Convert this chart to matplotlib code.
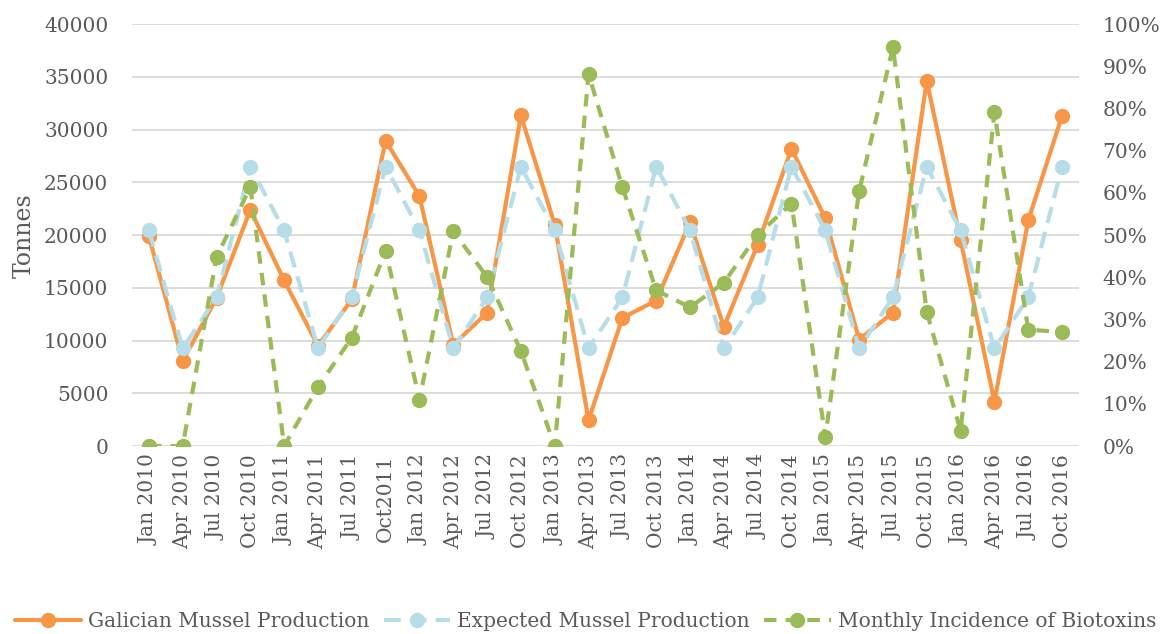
import matplotlib
matplotlib.use("Agg")
import matplotlib.pyplot as plt
from matplotlib.ticker import FuncFormatter, MultipleLocator

categories = ["Jan 2010", "Apr 2010", "Jul 2010", "Oct 2010",
              "Jan 2011", "Apr 2011", "Jul 2011", "Oct2011",
              "Jan 2012", "Apr 2012", "Jul 2012", "Oct 2012",
              "Jan 2013", "Apr 2013", "Jul 2013", "Oct 2013",
              "Jan 2014", "Apr 2014", "Jul 2014", "Oct 2014",
              "Jan 2015", "Apr 2015", "Jul 2015", "Oct 2015",
              "Jan 2016", "Apr 2016", "Jul 2016", "Oct 2016"]

galician = [19900, 8050, 14050, 22400, 15700, 9500, 13900, 28950,
            23700, 9600, 12650, 31350, 21000, 2450, 12150, 13800,
            21200, 11300, 19100, 28200, 21600, 10100, 12650, 34650,
            19550, 4200, 21400, 31300]

expected = [20450, 9250, 14100, 26500, 20450, 9250, 14100, 26500,
            20450, 9250, 14100, 26500, 20450, 9250, 14100, 26500,
            20450, 9250, 14100, 26500, 20450, 9250, 14100, 26500,
            20450, 9250, 14100, 26500]

biotoxins = [0.0, 0.0, 44.8, 61.4, 0.0, 14.0, 25.7, 46.3,
             11.0, 50.9, 40.1, 22.5, 0.0, 88.2, 61.4, 36.9,
             32.9, 38.7, 50.1, 57.5, 2.1, 60.4, 94.6, 31.8,
             3.6, 79.1, 27.6, 27.0]

FONT = "DejaVu Serif"
plt.rcParams["font.family"] = FONT
TXT = "#595959"
ORANGE = "#F79646"
BLUE = "#B7DEE8"
GREEN = "#9BBB59"
GRID = "#D9D9D9"
FS = 14.5

fig = plt.figure(figsize=(11.71, 6.34), dpi=100)
ax = fig.add_axes([0.1127, 0.2965, 0.8087, 0.6652])
ax2 = ax.twinx()

x = list(range(len(categories)))
l1, = ax.plot(x, galician, color=ORANGE, lw=3.0, marker="o", ms=10,
              solid_capstyle="round", zorder=3, label="Galician Mussel Production")
l2, = ax.plot(x, expected, color=BLUE, lw=3.0, marker="o", ms=10,
              dashes=(4, 2.2), zorder=4, label="Expected Mussel Production")
l3, = ax2.plot(x, biotoxins, color=GREEN, lw=3.0, marker="o", ms=10,
               dashes=(3, 2.2), zorder=5, label="Monthly Incidence of Biotoxins")

ax.set_xlim(-0.5, len(categories) - 0.5)
ax.set_ylim(0, 40000)
ax2.set_ylim(0, 100)
ax.yaxis.set_major_locator(MultipleLocator(5000))
ax2.yaxis.set_major_locator(MultipleLocator(10))
ax2.yaxis.set_major_formatter(FuncFormatter(lambda v, p: f"{int(round(v))}%"))

ax.set_xticks(x)
ax.set_xticklabels(categories, rotation=90)
ax.grid(axis="y", color=GRID, lw=1.3)
ax.set_axisbelow(True)
for a in (ax, ax2):
    for s in a.spines.values():
        s.set_visible(False)
    a.tick_params(length=0, colors=TXT, labelsize=FS)
ax.tick_params(axis="x", pad=6)
ax.tick_params(axis="y", pad=17)
ax2.tick_params(axis="y", pad=17)

ax.set_ylabel("Tonnes", color=TXT, fontsize=17, labelpad=6)

fig.legend(handles=[l1, l2, l3], loc="lower center", ncol=3,
           bbox_to_anchor=(0.5, -0.02), frameon=False, fontsize=FS,
           labelcolor=TXT, handlelength=3.3, columnspacing=0.7,
           handletextpad=0.35, borderpad=0.3)

fig.savefig("out.png", dpi=100)
